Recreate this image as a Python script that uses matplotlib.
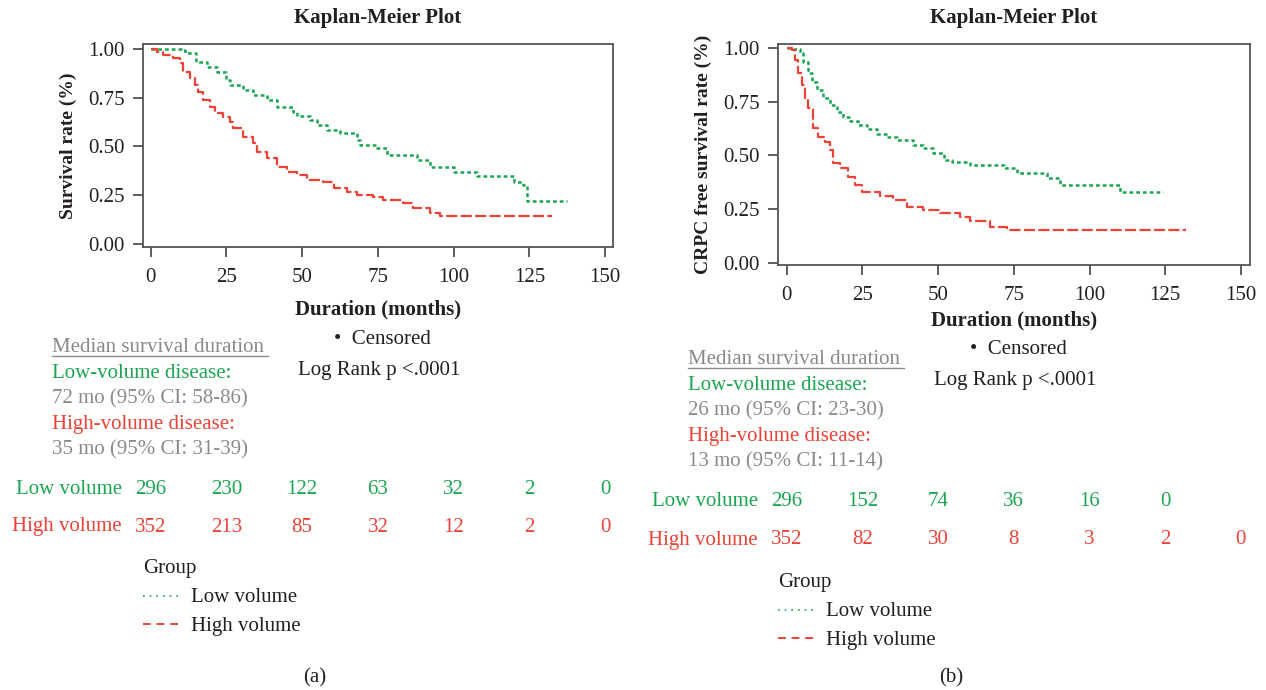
import matplotlib
matplotlib.use('Agg')
import matplotlib.pyplot as plt
import matplotlib.transforms as mtransforms
from matplotlib.lines import Line2D

plt.rcParams['font.family'] = ['Liberation Serif', 'DejaVu Serif']

# ---------------------------------------------------------------------------
# data (step curves: time in months, survival)
# ---------------------------------------------------------------------------
a_low_t = [0, 10, 11.3, 15, 18.5, 21.8, 25, 26.2, 30.6, 33.9, 38.3, 41.6, 47.1,
           48.2, 52.6, 54.8, 58.1, 62.5, 68, 69.1, 74.6, 78, 87.8, 92.2, 100,
           107.6, 119.8, 123, 124.2, 137.4]
a_low_s = [1.0, 0.993, 0.976, 0.933, 0.908, 0.882, 0.84, 0.814, 0.788, 0.763,
           0.737, 0.703, 0.677, 0.655, 0.635, 0.609, 0.584, 0.567, 0.532, 0.507,
           0.49, 0.456, 0.43, 0.396, 0.37, 0.348, 0.319, 0.302, 0.222, 0.222]
a_high_t = [0, 2, 4.2, 7.5, 9.7, 10.8, 13, 14.6, 15.7, 17.4, 19.6, 21.2, 24,
            26.2, 27.3, 30.6, 33.9, 35, 38.3, 41.6, 45, 48.2, 51.6, 57, 60.4,
            64.8, 68, 73.5, 76.8, 83.4, 86.7, 92.2, 95.5, 132.4]
a_high_s = [1.0, 0.985, 0.968, 0.95, 0.925, 0.882, 0.848, 0.814, 0.78, 0.737,
            0.703, 0.672, 0.652, 0.626, 0.592, 0.55, 0.515, 0.473, 0.439, 0.396,
            0.37, 0.353, 0.328, 0.319, 0.285, 0.268, 0.251, 0.239, 0.225, 0.208,
            0.183, 0.16, 0.143, 0.143]

b_low_t = [0, 2.2, 4.4, 5.5, 7.2, 8.3, 9.9, 12.1, 14.3, 16.5, 18.7, 20.9, 23.7,
           26.4, 29.7, 33, 36.3, 41.8, 45.1, 48.4, 51.8, 54.5, 60.6, 71.6, 76,
           85.9, 90.3, 110, 124.4]
b_low_s = [1.0, 0.995, 0.977, 0.938, 0.883, 0.844, 0.806, 0.767, 0.736, 0.705,
           0.681, 0.663, 0.642, 0.624, 0.6, 0.588, 0.572, 0.549, 0.533, 0.51,
           0.479, 0.471, 0.456, 0.44, 0.417, 0.393, 0.362, 0.328, 0.328]
b_high_t = [0, 1.65, 2.75, 3.85, 5, 6, 7.2, 8.8, 10.5, 12.7, 14.3, 15.4, 17.6,
            20.4, 22.6, 24.8, 30.8, 35.2, 39.6, 45.1, 50.6, 57.3, 60.6, 67.2,
            72.7, 132]
b_high_s = [1.0, 0.992, 0.946, 0.883, 0.829, 0.767, 0.72, 0.627, 0.588, 0.565,
            0.526, 0.463, 0.44, 0.40, 0.362, 0.328, 0.313, 0.292, 0.261, 0.246,
            0.23, 0.215, 0.196, 0.168, 0.152, 0.152]

risk_times = [0, 25, 50, 75, 100, 125, 150]
a_risk_low = ['296', '230', '122', '63', '32', '2', '0']
a_risk_high = ['352', '213', '85', '32', '12', '2', '0']
b_risk_low = ['296', '152', '74', '36', '16', '0', '']
b_risk_high = ['352', '82', '30', '8', '3', '2', '0']

a_median = ['72 mo (95% CI: 58-86)', '35 mo (95% CI: 31-39)']
b_median = ['26 mo (95% CI: 23-30)', '13 mo (95% CI: 11-14)']

GREEN = '#1aa550'
RED = '#ef4136'
GREY = '#8a8a8a'
BLACK = '#231f20'
W, H = 1266, 690
FS = 15


def fx(px):
    return px / W


def fy(py):
    return 1 - py / H


fig = plt.figure(figsize=(12.66, 6.9), dpi=100)


def km_panel(rect, xlim, ylim, ylabel, xlabelpad, low_t, low_s, high_t, high_s):
    ax = fig.add_axes(rect)
    ax.step(low_t, low_s, where='post', color=GREEN, lw=1.8, dashes=(1.5, 1.2))
    ax.step(high_t, high_s, where='post', color=RED, lw=1.6, dashes=(5, 1.5))
    ax.set_xlim(xlim)
    ax.set_ylim(ylim)
    ax.set_xticks(risk_times)
    ax.set_yticks([0, 0.25, 0.5, 0.75, 1.0])
    ax.set_yticklabels(['0.00', '0.25', '0.50', '0.75', '1.00'])
    ax.tick_params(direction='out', length=7, width=1.1, colors='#333333',
                   labelsize=FS, labelcolor=BLACK, pad=6)
    ax.tick_params(axis='x', pad=8)
    for sp in ax.spines.values():
        sp.set_color('#555555')
        sp.set_linewidth(1.3)
    ax.set_title('Kaplan-Meier Plot', fontsize=FS, fontweight='bold',
                 color=BLACK, pad=15)
    ax.set_xlabel('Duration (months)', fontsize=FS, fontweight='bold',
                  color=BLACK, labelpad=xlabelpad)
    ax.set_ylabel(ylabel, fontsize=14, fontweight='bold', color=BLACK,
                  labelpad=8)
    return ax


def hline(x0, x1, y, **kw):
    fig.add_artist(Line2D([fx(x0), fx(x1)], [fy(y), fy(y)],
                          transform=fig.transFigure, **kw))


def annotations(ax, x_txt, y_med, medians, cens_xy, logrank_xy,
                risk_low, risk_high, y_risk, x_grp, y_grp, label, x_lab):
    # median survival block
    fig.text(fx(x_txt), fy(y_med + 2), 'Median survival duration', color=GREY,
             fontsize=FS, va='center')
    hline(x_txt, x_txt + 216, y_med + 10, color=GREY, lw=1.0)
    rows = [('Low-volume disease:', GREEN), (medians[0], GREY),
            ('High-volume disease:', RED), (medians[1], GREY)]
    for i, (txt, c) in enumerate(rows):
        fig.text(fx(x_txt), fy(y_med + 2 + 25.5 * (i + 1)), txt, color=c,
                 fontsize=FS, va='center')
    fig.text(fx(cens_xy[0]), fy(cens_xy[1] + 2), u'\u2022  Censored',
             color=BLACK, fontsize=FS, va='center')
    fig.text(fx(logrank_xy[0]), fy(logrank_xy[1] + 2), 'Log Rank p <.0001',
             color=BLACK, fontsize=FS, va='center')

    # numbers at risk, aligned with the x ticks
    trans = mtransforms.blended_transform_factory(ax.transData, fig.transFigure)
    for vals, name, c, yy in [(risk_low, 'Low volume', GREEN, y_risk[0]),
                              (risk_high, 'High volume', RED, y_risk[1])]:
        for t, v in zip(risk_times, vals):
            ax.text(t, fy(yy + 2), v, transform=trans, color=c, fontsize=FS,
                    ha='center', va='center', clip_on=False)
        ax.text(-9.5, fy(yy + 2), name, transform=trans, color=c, fontsize=FS,
                ha='right', va='center', clip_on=False)

    # group legend
    fig.text(fx(x_grp), fy(y_grp + 2), 'Group', color=BLACK, fontsize=FS,
             va='center')
    hline(x_grp, x_grp + 36, y_grp + 29, color=GREEN, lw=1.2, dashes=(1, 3))
    hline(x_grp, x_grp + 36, y_grp + 57, color=RED, lw=1.4, dashes=(4, 3))
    fig.text(fx(x_grp + 48), fy(y_grp + 31), 'Low volume', color=BLACK,
             fontsize=FS, va='center')
    fig.text(fx(x_grp + 48), fy(y_grp + 59), 'High volume', color=BLACK,
             fontsize=FS, va='center')
    fig.text(fx(x_lab), fy(678), label, color=BLACK, fontsize=FS,
             ha='center', va='center')


ax_a = km_panel([fx(143), fy(247), fx(613) - fx(143), fy(44) - fy(247)],
                (-2.54, 152.6), (-0.015, 1.024), 'Survival rate (%)', 9,
                a_low_t, a_low_s, a_high_t, a_high_s)
ax_b = km_panel([fx(778), fy(265), fx(1250) - fx(778), fy(44) - fy(265)],
                (-2.87, 153.0), (-0.011, 1.02), 'CRPC free survival rate (%)', 4,
                b_low_t, b_low_s, b_high_t, b_high_s)

annotations(ax_a, 52, 346, a_median, (334, 338), (298, 369),
            a_risk_low, a_risk_high, (487, 525), 143, 567, '(a)', 315)
annotations(ax_b, 688, 358, b_median, (970, 348), (934, 378),
            b_risk_low, b_risk_high, (499, 538), 778, 581, '(b)', 951)

fig.savefig('out.png', dpi=100, facecolor='white')
